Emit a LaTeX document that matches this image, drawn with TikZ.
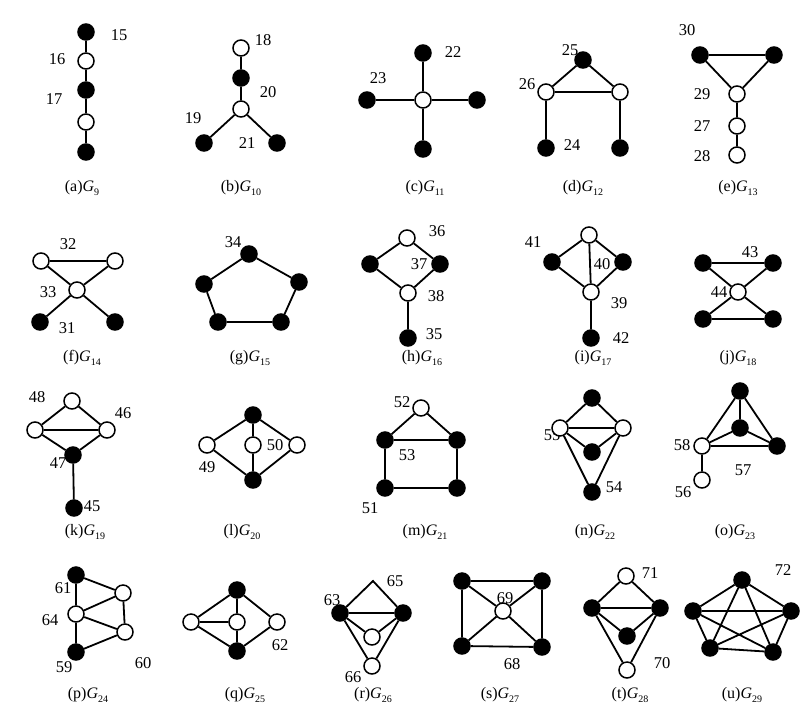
\documentclass[tikz,border=0pt]{standalone}
\usepackage{fontspec}
\setmainfont{Liberation Serif}
\newcommand{\capG}[2]{(#1)\textit{G}\raisebox{-0.45ex}{\fontsize{10}{10}\selectfont #2}}
\begin{document}
\begin{tikzpicture}[x=1pt,y=-1pt,
  vb/.style={circle,draw=black,fill=black,minimum size=16pt,inner sep=0pt,line width=1.5pt},
  vw/.style={circle,draw=black,fill=white,minimum size=16pt,inner sep=0pt,line width=1.5pt},
  lbl/.style={inner sep=0pt,font=\fontsize{16.5}{18}\selectfont},
  captxt/.style={inner sep=0pt,font=\fontsize{16}{18}\selectfont},
  every path/.style={line width=1.8pt}]
\useasboundingbox[fill=white] (0,0) rectangle (800,705);
% ---- G9
\node[vb] (a1) at (86,32) {};
\node[vw] (a2) at (86,61) {};
\node[vb] (a3) at (86,90) {};
\node[vw] (a4) at (86,122) {};
\node[vb] (a5) at (86,152) {};
\draw (a1)--(a2)--(a3)--(a4)--(a5);
\node[lbl] (la1) at (119,35) {15};
\node[lbl] (la2) at (57,59) {16};
\node[lbl] (la3) at (54,99) {17};
\node[captxt] (ca) at (82,188) {\capG{a}{9}};
% ---- G10
\node[vw] (b1) at (241,48) {};
\node[vb] (b2) at (241,78) {};
\node[vw] (b3) at (241,109) {};
\node[vb] (b4) at (204,143) {};
\node[vb] (b5) at (277,143) {};
\draw (b1)--(b2)--(b3)--(b4) (b3)--(b5);
\node[lbl] (lb1) at (263,40) {18};
\node[lbl] (lb2) at (268,92) {20};
\node[lbl] (lb3) at (193,118) {19};
\node[lbl] (lb4) at (247,143) {21};
\node[captxt] (cb) at (241,188) {\capG{b}{10}};
% ---- G11
\node[vw] (c0) at (423,100) {};
\node[vb] (c1) at (423,53) {};
\node[vb] (c2) at (367,100) {};
\node[vb] (c3) at (477,100) {};
\node[vb] (c4) at (423,149) {};
\draw (c0)--(c1) (c0)--(c2) (c0)--(c3) (c0)--(c4);
\node[lbl] (lc1) at (453,52) {22};
\node[lbl] (lc2) at (378,78) {23};
\node[captxt] (cc) at (425,188) {\capG{c}{11}};
% ---- G12
\node[vb] (d1) at (583,60) {};
\node[vw] (d2) at (546,92) {};
\node[vw] (d3) at (620,92) {};
\node[vb] (d4) at (546,148) {};
\node[vb] (d5) at (620,148) {};
\draw (d1)--(d2)--(d3)--(d1) (d2)--(d4) (d3)--(d5);
\node[lbl] (ld1) at (570,50) {25};
\node[lbl] (ld2) at (527,84) {26};
\node[lbl] (ld3) at (572,145) {24};
\node[captxt] (cd) at (583,188) {\capG{d}{12}};
% ---- G13
\node[vb] (e1) at (700,55) {};
\node[vb] (e2) at (774,55) {};
\node[vw] (e3) at (737,94) {};
\node[vw] (e4) at (737,126) {};
\node[vw] (e5) at (737,155) {};
\draw (e1)--(e2)--(e3)--(e1) (e3)--(e4)--(e5);
\node[lbl] (le1) at (687,30) {30};
\node[lbl] (le2) at (702,94) {29};
\node[lbl] (le3) at (702,126) {27};
\node[lbl] (le4) at (702,156) {28};
\node[captxt] (ce) at (738,188) {\capG{e}{13}};
% ---- G14
\node[vw] (f1) at (41,261) {};
\node[vw] (f2) at (115,261) {};
\node[vw] (f3) at (77,290) {};
\node[vb] (f4) at (40,322) {};
\node[vb] (f5) at (115,322) {};
\draw (f1)--(f2)--(f3)--(f1) (f3)--(f4) (f3)--(f5);
\node[lbl] (lf1) at (68,244) {32};
\node[lbl] (lf2) at (48,292) {33};
\node[lbl] (lf3) at (67,328) {31};
\node[captxt] (cf) at (82,358) {\capG{f}{14}};
% ---- G15
\node[vb] (g1) at (249,254) {};
\node[vb] (g2) at (204,284) {};
\node[vb] (g3) at (218,322) {};
\node[vb] (g4) at (281,322) {};
\node[vb] (g5) at (299,282) {};
\draw (g1)--(g2)--(g3)--(g4)--(g5)--(g1);
\node[lbl] (lg1) at (233,242) {34};
\node[captxt] (cg) at (250,358) {\capG{g}{15}};
% ---- G16
\node[vw] (h1) at (407,238) {};
\node[vb] (h2) at (370,264) {};
\node[vb] (h3) at (440,264) {};
\node[vw] (h4) at (408,293) {};
\node[vb] (h5) at (408,338) {};
\draw (h1)--(h2)--(h4)--(h3)--(h1) (h4)--(h5);
\node[lbl] (lh1) at (437,231) {36};
\node[lbl] (lh2) at (419,264) {37};
\node[lbl] (lh3) at (436,296) {38};
\node[lbl] (lh4) at (434,334) {35};
\node[captxt] (ch) at (422,358) {\capG{h}{16}};
% ---- G17
\node[vw] (i1) at (589,235) {};
\node[vb] (i2) at (552,262) {};
\node[vb] (i3) at (623,262) {};
\node[vw] (i4) at (591,292) {};
\node[vb] (i5) at (591,338) {};
\draw (i1)--(i2)--(i4)--(i3)--(i1) (i1)--(i4)--(i5);
\node[lbl] (li1) at (533,242) {41};
\node[lbl] (li2) at (602,264) {40};
\node[lbl] (li3) at (619,303) {39};
\node[lbl] (li4) at (621,338) {42};
\node[captxt] (ci) at (593,358) {\capG{i}{17}};
% ---- G18
\node[vb] (j1) at (703,263) {};
\node[vb] (j2) at (773,263) {};
\node[vw] (j3) at (738,292) {};
\node[vb] (j4) at (703,319) {};
\node[vb] (j5) at (773,319) {};
\draw (j1)--(j2)--(j3)--(j1) (j4)--(j5)--(j3)--(j4);
\node[lbl] (lj1) at (750,252) {43};
\node[lbl] (lj2) at (719,292) {44};
\node[captxt] (cj) at (738,358) {\capG{j}{18}};
% ---- G19
\node[vw] (k1) at (72,401) {};
\node[vw] (k2) at (35,430) {};
\node[vw] (k3) at (107,430) {};
\node[vb] (k4) at (73,455) {};
\node[vb] (k5) at (74,508) {};
\draw (k1)--(k2)--(k3)--(k1) (k2)--(k4)--(k3) (k4)--(k5);
\node[lbl] (lk1) at (37,397) {48};
\node[lbl] (lk2) at (123,413) {46};
\node[lbl] (lk3) at (58,463) {47};
\node[lbl] (lk4) at (92,506) {45};
\node[captxt] (ck) at (85,532) {\capG{k}{19}};
% ---- G20
\node[vb] (l1) at (253,415) {};
\node[vw] (l2) at (207,445) {};
\node[vw] (l3) at (253,445) {};
\node[vb] (l4) at (253,480) {};
\node[vw] (l5) at (297,445) {};
\draw (l1)--(l2)--(l4)--(l5)--(l1)--(l3)--(l4);
\node[lbl] (ll1) at (207,467) {49};
\node[lbl] (ll2) at (275,445) {50};
\node[captxt] (cl) at (242,532) {\capG{l}{20}};
% ---- G21
\node[vw] (m1) at (421,408) {};
\node[vb] (m2) at (385,440) {};
\node[vb] (m3) at (457,440) {};
\node[vb] (m4) at (385,488) {};
\node[vb] (m5) at (457,488) {};
\draw (m1)--(m2)--(m3)--(m1) (m2)--(m4)--(m5)--(m3);
\node[lbl] (lm1) at (402,402) {52};
\node[lbl] (lm2) at (407,455) {53};
\node[lbl] (lm3) at (370,508) {51};
\node[captxt] (cm) at (425,532) {\capG{m}{21}};
% ---- G22
\node[lbl] (ln1) at (552,435) {55};
\node[vb] (n1) at (592,398) {};
\node[vw] (n2) at (560,428) {};
\node[vw] (n3) at (623,428) {};
\node[vb] (n4) at (592,452) {};
\node[vb] (n5) at (592,492) {};
\draw (n1)--(n2)--(n3)--(n1) (n2)--(n4)--(n3) (n2)--(n5)--(n3);
\node[lbl] (ln2) at (614,487) {54};
\node[captxt] (cn) at (595,532) {\capG{n}{22}};
% ---- G23
\node[vb] (o1) at (740,391) {};
\node[vb] (o2) at (740,428) {};
\node[vb] (o3) at (777,446) {};
\node[vw] (o4) at (702,446) {};
\node[vw] (o5) at (702,480) {};
\draw (o1)--(o2)--(o3)--(o1)--(o4)--(o2) (o4)--(o3) (o4)--(o5);
\node[lbl] (lo1) at (682,445) {58};
\node[lbl] (lo2) at (743,470) {57};
\node[lbl] (lo3) at (683,492) {56};
\node[captxt] (co) at (735,532) {\capG{o}{23}};
% ---- G24
\node[vb] (p1) at (76,575) {};
\node[vw] (p2) at (123,593) {};
\node[vw] (p3) at (76,614) {};
\node[vw] (p4) at (125,632) {};
\node[vb] (p5) at (76,652) {};
\draw (p1)--(p2)--(p4)--(p5)--(p3)--(p1) (p3)--(p2) (p3)--(p4);
\node[lbl] (lp1) at (63,588) {61};
\node[lbl] (lp2) at (50,620) {64};
\node[lbl] (lp3) at (64,667) {59};
\node[lbl] (lp4) at (143,663) {60};
\node[captxt] (cp) at (88,695) {\capG{p}{24}};
% ---- G25
\node[vb] (q1) at (237,590) {};
\node[vw] (q2) at (191,622) {};
\node[vw] (q3) at (237,622) {};
\node[vb] (q4) at (237,651) {};
\node[vw] (q5) at (277,622) {};
\draw (q1)--(q2)--(q4)--(q5)--(q1)--(q3)--(q4) (q2)--(q3);
\node[lbl] (lq1) at (280,645) {62};
\node[captxt] (cq) at (245,695) {\capG{q}{25}};
% ---- G26
\coordinate (r0) at (373,581);
\node[vb] (r1) at (340,613) {};
\node[vb] (r2) at (403,613) {};
\node[vw] (r3) at (372,637) {};
\node[vw] (r4) at (372,666) {};
\draw (r1)--(r0)--(r2) (r1)--(r2) (r1)--(r3)--(r2) (r1)--(r4)--(r2);
\node[lbl] (lr1) at (395,581) {65};
\node[lbl] (lr2) at (332,600) {63};
\node[lbl] (lr3) at (353,677) {66};
\node[captxt] (cr) at (373,695) {\capG{r}{26}};
% ---- G27
\node[vb] (s1) at (462,581) {};
\node[vb] (s2) at (542,581) {};
\node[vb] (s3) at (542,647) {};
\node[vb] (s4) at (462,646) {};
\node[vw] (s5) at (503,611) {};
\draw (s1)--(s2)--(s3)--(s4)--(s1) (s1)--(s5)--(s3) (s2)--(s5)--(s4);
\node[lbl] (ls1) at (505,598) {69};
\node[lbl] (ls2) at (512,664) {68};
\node[captxt] (cs) at (500,695) {\capG{s}{27}};
% ---- G28
\node[vw] (t1) at (626,576) {};
\node[vb] (t2) at (592,608) {};
\node[vb] (t3) at (660,608) {};
\node[vb] (t4) at (627,636) {};
\node[vw] (t5) at (627,670) {};
\draw (t1)--(t2)--(t3)--(t1) (t2)--(t4)--(t3) (t2)--(t5)--(t3);
\node[lbl] (lt1) at (650,573) {71};
\node[lbl] (lt2) at (662,663) {70};
\node[captxt] (ct) at (630,695) {\capG{t}{28}};
% ---- G29
\node[vb] (u1) at (742,580) {};
\node[vb] (u2) at (693,611) {};
\node[vb] (u3) at (791,611) {};
\node[vb] (u4) at (710,648) {};
\node[vb] (u5) at (773,652) {};
\draw (u1)--(u2)--(u4)--(u5)--(u3)--(u1) (u1)--(u4)--(u3)--(u2)--(u5)--(u1);
\node[lbl] (lu1) at (783,570) {72};
\node[captxt] (cu) at (742,695) {\capG{u}{29}};
\end{tikzpicture}
\end{document}
